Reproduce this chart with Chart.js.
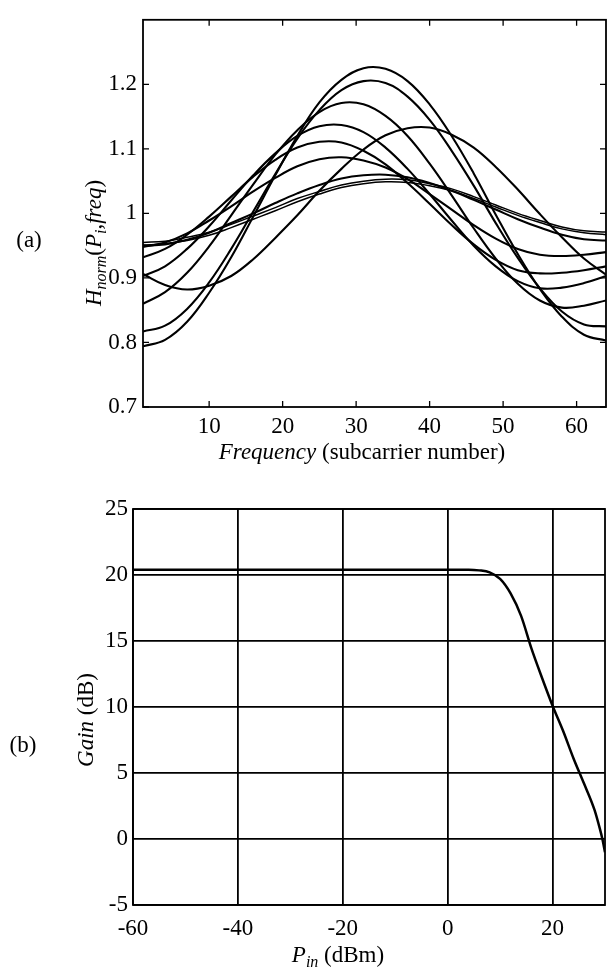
<!DOCTYPE html>
<html>
<head>
<meta charset="utf-8">
<script src="https://cdn.jsdelivr.net/npm/chart.js@4/dist/chart.umd.min.js"></script>
<style>
html, body { margin: 0; padding: 0; background: #fff; }
#page { position: relative; width: 607px; height: 972px; }
#chartA { position: absolute; left: 0; top: 0; }
#chartB { position: absolute; left: 0; top: 480px; }
</style>
</head>
<body>
<div id="page">
  <canvas id="chartA" width="607" height="480"></canvas>
  <canvas id="chartB" width="607" height="492"></canvas>
</div>
<script>
// (a) normalised frequency response, one curve per input power
const freq = [1, 4, 7, 10, 13, 16, 19, 22, 25, 28, 31, 34, 37, 40, 43, 46, 49, 52, 55, 58, 61, 64];
const hA = [0.794, 0.804, 0.832, 0.877, 0.932, 0.995, 1.059, 1.120, 1.172, 1.207, 1.225, 1.224, 1.205, 1.169, 1.120, 1.062, 0.998, 0.937, 0.883, 0.840, 0.812, 0.803];
const hB = [0.817, 0.826, 0.852, 0.893, 0.945, 1.003, 1.061, 1.116, 1.160, 1.191, 1.205, 1.202, 1.181, 1.145, 1.097, 1.043, 0.985, 0.931, 0.884, 0.848, 0.828, 0.825];
const hC = [0.860, 0.878, 0.908, 0.949, 0.997, 1.045, 1.091, 1.129, 1.157, 1.171, 1.169, 1.151, 1.120, 1.077, 1.028, 0.977, 0.930, 0.891, 0.865, 0.854, 0.857, 0.865];
const hD = [0.903, 0.918, 0.945, 0.980, 1.020, 1.059, 1.093, 1.120, 1.135, 1.137, 1.126, 1.102, 1.069, 1.030, 0.989, 0.950, 0.918, 0.895, 0.884, 0.885, 0.892, 0.903];
const hE = [0.906, 0.889, 0.882, 0.888, 0.903, 0.929, 0.962, 0.997, 1.035, 1.069, 1.099, 1.121, 1.132, 1.133, 1.122, 1.102, 1.072, 1.037, 0.999, 0.963, 0.930, 0.905];
const hF = [0.932, 0.945, 0.967, 0.995, 1.026, 1.057, 1.083, 1.102, 1.111, 1.110, 1.097, 1.076, 1.047, 1.015, 0.982, 0.952, 0.928, 0.912, 0.907, 0.908, 0.912, 0.918];
const hG = [0.948, 0.955, 0.969, 0.989, 1.011, 1.034, 1.055, 1.073, 1.084, 1.087, 1.082, 1.071, 1.053, 1.030, 1.006, 0.982, 0.961, 0.945, 0.936, 0.934, 0.936, 0.940];
const hH = [0.950, 0.952, 0.959, 0.970, 0.985, 1.000, 1.016, 1.031, 1.044, 1.054, 1.059, 1.060, 1.056, 1.047, 1.035, 1.021, 1.006, 0.991, 0.978, 0.967, 0.960, 0.958];
const hI = [0.955, 0.957, 0.963, 0.971, 0.983, 0.996, 1.009, 1.023, 1.034, 1.044, 1.050, 1.053, 1.052, 1.046, 1.038, 1.026, 1.013, 1.000, 0.989, 0.979, 0.973, 0.971];
const hJ = [0.951, 0.953, 0.958, 0.966, 0.978, 0.991, 1.004, 1.018, 1.030, 1.040, 1.046, 1.049, 1.048, 1.043, 1.035, 1.023, 1.010, 0.997, 0.986, 0.976, 0.970, 0.967];
const xTicksA = [10, 20, 30, 40, 50, 60];
const yTicksA = [0.7, 0.8, 0.9, 1, 1.1, 1.2];

// (b) amplifier gain against input power
const pin = [-60, -40, -20, 0, 4, 6, 8, 10, 12, 14, 16, 18, 20, 22, 24, 26, 28, 29, 29.5, 30];
const gain = [20.4, 20.4, 20.4, 20.4, 20.4, 20.35, 20.2, 19.7, 18.6, 16.9, 14.4, 12.2, 10.1, 8.2, 6.1, 4.2, 2.2, 0.8, 0.0, -1.0];
const xTicksB = [-60, -40, -20, 0, 20];
const yTicksB = [-5, 0, 5, 10, 15, 20, 25];

const SERIF = "'Liberation Serif', 'DejaVu Serif', serif";
const FONT_SIZE = 23;

Chart.defaults.font.family = SERIF;
Chart.defaults.color = '#000';

function partFont(p){
	let size = p.sub ? 16 : FONT_SIZE;
	return (p.it ? 'italic ' : '') + size + 'px ' + SERIF;
}

// text with italic pieces and subscripts, centred on (cx, baseline)
function drawRich(ctx, parts, cx, cy, rotate){
	let widths = [];
	let total = 0;
	for(let i in parts){
		ctx.font = partFont(parts[i]);
		let w = ctx.measureText(parts[i].t).width;
		widths.push(w);
		total += w;
	}
	ctx.save();
	ctx.translate(cx, cy);
	if(rotate)
		ctx.rotate(-Math.PI/2);
	ctx.textBaseline = 'alphabetic';
	ctx.textAlign = 'left';
	ctx.fillStyle = '#000';
	let x = -total/2;
	for(let i in parts){
		ctx.font = partFont(parts[i]);
		ctx.fillText(parts[i].t, x, parts[i].sub ? 5 : 0);
		x += widths[i];
	}
	ctx.restore();
}

// closed box, inward tick marks and the axis titles
const framePlugin = {
	id: 'frame',
	afterDraw(chart, args, opts){
		let ctx = chart.ctx;
		let a = chart.chartArea;
		ctx.save();
		ctx.strokeStyle = '#000';
		ctx.lineWidth = 1.8;
		ctx.strokeRect(a.left, a.top, a.right - a.left, a.bottom - a.top);
		if(opts.tickLen){
			let sx = chart.scales.x, sy = chart.scales.y;
			ctx.lineWidth = 1.3;
			ctx.beginPath();
			sx.ticks.forEach(t => {
				let px = sx.getPixelForValue(t.value);
				ctx.moveTo(px, a.bottom); ctx.lineTo(px, a.bottom - opts.tickLen);
				ctx.moveTo(px, a.top); ctx.lineTo(px, a.top + opts.tickLen);
			});
			sy.ticks.forEach(t => {
				let py = sy.getPixelForValue(t.value);
				ctx.moveTo(a.left, py); ctx.lineTo(a.left + opts.tickLen, py);
				ctx.moveTo(a.right, py); ctx.lineTo(a.right - opts.tickLen, py);
			});
			ctx.stroke();
		}
		ctx.restore();
		for(let i in opts.texts){
			let t = opts.texts[i];
			drawRich(ctx, t.parts, t.x, t.y, t.rotate);
		}
	}
};

function linePoints(xs, ys){
	return xs.map((x, i) => ({x: x, y: ys[i]}));
}

function fixTicks(values){
	return function(scale){
		scale.ticks = values.map(v => ({value: v}));
	};
}

let curvesA = [hA, hB, hC, hD, hE, hF, hG, hH, hI, hJ];
let datasetsA = curvesA.map((c, i) => ({
	data: linePoints(freq, c),
	borderColor: '#000',
	borderWidth: i >= 8 ? 1.5 : 2.1,
	pointRadius: 0,
	tension: 0.4,
	fill: false
}));

new Chart(document.getElementById('chartA'), {
	type: 'line',
	data: { datasets: datasetsA },
	plugins: [framePlugin],
	options: {
		responsive: false,
		animation: false,
		layout: { padding: { top: 15, right: 1, left: 0, bottom: 0 } },
		plugins: {
			legend: { display: false },
			tooltip: { enabled: false },
			frame: {
				tickLen: 6,
				texts: [
					{ x: 362, y: 459, rotate: false, parts: [
						{ t: 'Frequency', it: true },
						{ t: ' (subcarrier number)' }
					]},
					{ x: 101, y: 243, rotate: true, parts: [
						{ t: 'H', it: true },
						{ t: 'norm', it: true, sub: true },
						{ t: '(' },
						{ t: 'P', it: true },
						{ t: 'i', it: true, sub: true },
						{ t: ',' },
						{ t: 'freq', it: true },
						{ t: ')' }
					]},
					{ x: 29, y: 247, rotate: false, parts: [ { t: '(a)' } ] }
				]
			}
		},
		scales: {
			x: {
				type: 'linear', min: 1, max: 64,
				afterBuildTicks: fixTicks(xTicksA),
				afterFit: s => { s.height = 73; },
				grid: { display: false, drawTicks: false },
				border: { display: false },
				ticks: { font: { size: FONT_SIZE }, padding: 6, maxRotation: 0, autoSkip: false, callback: v => String(v) }
			},
			y: {
				type: 'linear', min: 0.7, max: 1.3,
				afterBuildTicks: fixTicks(yTicksA),
				afterFit: s => { s.width = 143; },
				grid: { display: false, drawTicks: false },
				border: { display: false },
				ticks: { font: { size: FONT_SIZE }, padding: 6, autoSkip: false, callback: v => String(v) }
			}
		}
	}
});

new Chart(document.getElementById('chartB'), {
	type: 'line',
	data: { datasets: [{
		data: linePoints(pin, gain),
		borderColor: '#000',
		borderWidth: 2.5,
		pointRadius: 0,
		cubicInterpolationMode: 'monotone',
		fill: false
	}]},
	plugins: [framePlugin],
	options: {
		responsive: false,
		animation: false,
		layout: { padding: { top: 29, right: 2, left: 0, bottom: 0 } },
		plugins: {
			legend: { display: false },
			tooltip: { enabled: false },
			frame: {
				tickLen: 0,
				texts: [
					{ x: 338, y: 482, rotate: false, parts: [
						{ t: 'P', it: true },
						{ t: 'in', it: true, sub: true },
						{ t: ' (dBm)' }
					]},
					{ x: 93, y: 240, rotate: true, parts: [
						{ t: 'Gain', it: true },
						{ t: ' (dB)' }
					]},
					{ x: 23, y: 272, rotate: false, parts: [ { t: '(b)' } ] }
				]
			}
		},
		scales: {
			x: {
				type: 'linear', min: -60, max: 30,
				afterBuildTicks: fixTicks(xTicksB),
				afterFit: s => { s.height = 67; },
				grid: { color: '#000', lineWidth: 1.8, drawTicks: false },
				border: { display: false },
				ticks: { font: { size: FONT_SIZE }, padding: 10, maxRotation: 0, autoSkip: false, callback: v => String(v) }
			},
			y: {
				type: 'linear', min: -5, max: 25,
				afterBuildTicks: fixTicks(yTicksB),
				afterFit: s => { s.width = 133; },
				grid: { color: '#000', lineWidth: 1.8, drawTicks: false },
				border: { display: false },
				ticks: { font: { size: FONT_SIZE }, padding: 5, autoSkip: false, callback: v => String(v) }
			}
		}
	}
});
</script>
</body>
</html>
